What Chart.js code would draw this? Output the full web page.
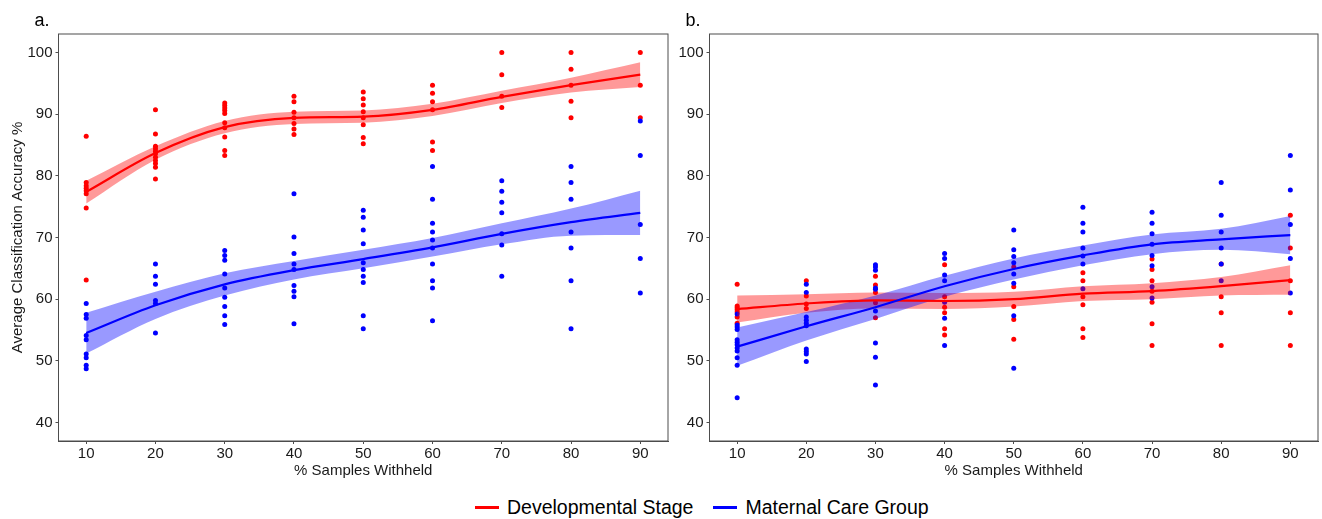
<!DOCTYPE html>
<html>
<head>
<meta charset="utf-8">
<script src="https://cdn.jsdelivr.net/npm/chart.js@4"></script>
<style>
  body { margin: 0; background: #fff; font-family: "Liberation Sans", Arial, sans-serif; }
  #wrap { position: relative; width: 1322px; height: 519px; overflow: hidden; }
  #panelA { position: absolute; left: 0; top: 0; }
  #panelB { position: absolute; left: 672px; top: 0; }
  #legend { position: absolute; left: 475px; top: 496px; display: flex; align-items: center;
            font-size: 19.5px; color: #000; white-space: nowrap; }
  .key { display: inline-block; width: 24px; height: 3px; margin-right: 8px; }
</style>
</head>
<body>
<div id="wrap">
  <canvas id="panelA" width="672" height="480"></canvas>
  <canvas id="panelB" width="650" height="480"></canvas>
  <div id="legend">
    <span class="key" style="background:#ff0000"></span><span style="margin-right:20px">Developmental Stage</span>
    <span class="key" style="background:#0000ff"></span><span>Maternal Care Group</span>
  </div>
</div>
<script>
const pctWithheld = [10, 20, 30, 40, 50, 60, 70, 80, 90];
const yTicks = [40, 50, 60, 70, 80, 90, 100];

// panel a: accuracy of each run, one list per % withheld
const aDevRuns = [
  [86.4, 78.9, 78.4, 78.0, 77.6, 77.1, 74.8, 63.1],
  [90.7, 86.8, 84.8, 84.4, 84.0, 83.6, 83.0, 82.5, 82.0, 81.4, 79.5],
  [91.8, 91.4, 91.0, 90.6, 90.1, 88.6, 87.8, 86.3, 84.1, 83.3],
  [92.9, 92.0, 90.3, 89.4, 88.5, 87.6, 86.7],
  [93.6, 92.5, 91.5, 90.4, 89.4, 88.3, 86.2, 85.2],
  [94.7, 93.4, 92.0, 90.7, 85.5, 84.1],
  [100, 96.4, 92.9, 91.1],
  [100, 97.3, 94.7, 92.1, 89.4],
  [100, 94.7, 89.4]
];
const aMatRuns = [
  [59.3, 57.5, 56.9, 54.1, 53.4, 51.1, 50.5, 49.3, 48.7],
  [65.7, 63.7, 62.4, 59.8, 59.3, 54.5],
  [67.9, 67.1, 66.3, 64.1, 61.8, 60.3, 58.8, 57.3, 55.9],
  [77.1, 70.1, 67.4, 65.7, 64.8, 62.2, 61.3, 60.4, 56.0],
  [74.4, 73.3, 71.2, 69.0, 65.9, 64.8, 63.7, 62.7, 57.3, 55.2],
  [81.5, 76.2, 72.3, 70.9, 69.6, 68.3, 65.7, 63.0, 61.8, 56.5],
  [79.2, 77.5, 75.7, 74.0, 70.6, 68.8, 63.7],
  [81.5, 78.9, 76.2, 70.9, 68.3, 63.0, 55.2],
  [88.9, 83.3, 72.1, 66.6, 61.0]
];
const aDevFit = [77.4, 83.7, 87.9, 89.4, 89.6, 90.7, 92.8, 94.7, 96.4];
const aDevLow = [75.5, 82.6, 86.9, 88.4, 88.6, 89.7, 91.8, 93.5, 94.4];
const aDevHigh = [79.2, 84.8, 88.9, 90.4, 90.6, 91.7, 93.8, 95.9, 98.4];
const aMatFit = [54.5, 59.0, 62.4, 64.7, 66.5, 68.4, 70.6, 72.5, 74.0];
const aMatLow = [51.2, 56.8, 60.6, 63.2, 65.0, 66.9, 68.9, 70.3, 70.4];
const aMatHigh = [57.8, 61.2, 64.2, 66.2, 68.0, 69.9, 72.3, 74.7, 77.6];

// panel b
const bDevRuns = [
  [62.4, 58.9, 58.6, 58.3, 57.9, 57.1, 56.1],
  [63.0, 60.5, 59.2, 58.5],
  [63.7, 62.3, 61.1, 59.4, 57.0],
  [65.6, 60.4, 58.7, 57.8, 55.2, 54.2],
  [65.2, 62.0, 58.8, 56.7, 53.5],
  [64.3, 63.0, 60.4, 59.1, 55.2, 53.8],
  [66.5, 64.8, 63.0, 61.3, 59.5, 56.0, 52.5],
  [65.7, 60.4, 57.8, 52.5],
  [73.6, 68.3, 63.0, 57.8, 52.5]
];
const bMatRuns = [
  [57.6, 55.8, 55.5, 55.1, 53.4, 53.0, 52.6, 52.1, 51.6, 50.5, 49.3, 44.0],
  [62.4, 61.1, 57.1, 56.6, 56.1, 55.7, 51.9, 51.5, 51.1, 49.9],
  [65.6, 65.2, 64.7, 61.8, 61.6, 58.1, 52.9, 50.6, 46.1],
  [67.4, 66.6, 63.9, 63.0, 59.5, 56.9, 52.5],
  [71.2, 68.0, 66.9, 65.9, 64.1, 62.6, 57.3, 48.8],
  [74.9, 72.3, 70.9, 68.3, 67.0, 65.7, 61.7],
  [74.1, 72.3, 70.6, 68.9, 67.1, 65.4, 62.0, 60.2],
  [78.9, 73.6, 70.9, 68.3, 65.7, 63.0],
  [83.3, 77.7, 72.1, 66.6, 61.0]
];
const bDevFit = [58.4, 59.3, 59.8, 59.7, 60.0, 60.9, 61.3, 62.1, 63.1];
const bDevLow = [56.2, 57.8, 58.5, 58.4, 58.8, 59.7, 60.0, 60.6, 60.7];
const bDevHigh = [60.6, 60.8, 61.1, 61.0, 61.2, 62.1, 62.6, 63.6, 65.5];
const bMatFit = [52.3, 55.6, 58.7, 62.1, 64.9, 67.1, 68.9, 69.7, 70.4];
const bMatLow = [49.2, 53.3, 56.8, 60.4, 63.2, 65.5, 67.3, 68.0, 67.3];
const bMatHigh = [55.4, 57.9, 60.6, 63.8, 66.6, 68.7, 70.5, 71.4, 73.5];

const RED = "#ff0000";
const BLUE = "#0000ff";
const AXIS = "#4d4d4d";
const FONT = '"Liberation Sans", Arial, sans-serif';

const toPoints = (runs) =>
  pctWithheld.flatMap((x, i) => runs[i].map((y) => ({ x, y })));
const toCurve = (vals) => pctWithheld.map((x, i) => ({ x, y: vals[i] }));

const panelBox = {
  id: "panelBox",
  afterDraw(chart, args, opts) {
    const { ctx, chartArea } = chart;
    ctx.save();
    ctx.strokeStyle = AXIS;
    ctx.lineWidth = 1;
    ctx.strokeRect(chartArea.left, chartArea.top, chartArea.right - chartArea.left, chartArea.bottom - chartArea.top);
    ctx.font = "18px " + FONT;
    ctx.fillStyle = "#000";
    ctx.fillText(opts.letter, chartArea.left + opts.dx, 26);
    ctx.restore();
  },
};

function curve(vals, color, width, order, fill) {
  return {
    data: toCurve(vals),
    showLine: true,
    borderColor: color,
    borderWidth: width,
    backgroundColor: color,
    pointRadius: 0,
    cubicInterpolationMode: "monotone",
    fill: fill,
    order: order,
  };
}

function dots(runs, color, order) {
  return {
    data: toPoints(runs),
    backgroundColor: color,
    borderWidth: 0,
    pointRadius: 2.5,
    order: order,
  };
}

function makePanel(canvasId, p) {
  new Chart(document.getElementById(canvasId), {
    type: "scatter",
    data: {
      datasets: [
        dots(p.devRuns, RED, 6),
        dots(p.matRuns, BLUE, 5),
        curve(p.devLow, "rgba(0,0,0,0)", 0, 4, false),
        curve(p.devHigh, "rgba(255,0,0,0.4)", 0, 4, 2),
        curve(p.matLow, "rgba(0,0,0,0)", 0, 3, false),
        curve(p.matHigh, "rgba(0,0,255,0.4)", 0, 3, 4),
        curve(p.devFit, RED, 2.2, 2, false),
        curve(p.matFit, BLUE, 2.2, 1, false),
      ],
    },
    options: {
      responsive: false,
      animation: false,
      events: [],
      layout: { padding: { top: 34, right: p.padRight, left: 0, bottom: 0 } },
      plugins: {
        legend: { display: false },
        tooltip: { enabled: false },
        panelBox: { letter: p.letter, dx: -24 },
      },
      scales: {
        x: {
          type: "linear",
          min: 6,
          max: 94,
          afterBuildTicks: (scale) => {
            scale.ticks = pctWithheld.map((v) => ({ value: v }));
          },
          afterFit: (scale) => {
            scale.height = 39;
          },
          grid: { drawOnChartArea: false, tickLength: 3, color: AXIS },
          border: { color: AXIS },
          ticks: { color: "#1a1a1a", padding: 1, font: { family: FONT, size: 15 } },
          title: {
            display: true,
            text: "% Samples Withheld",
            color: "#1a1a1a",
            font: { family: FONT, size: 15 },
            padding: { top: 0, bottom: 0 },
          },
        },
        y: {
          min: 37,
          max: 103,
          afterBuildTicks: (scale) => {
            scale.ticks = yTicks.map((v) => ({ value: v }));
          },
          afterFit: (scale) => {
            scale.width = p.yWidth;
          },
          grid: { drawOnChartArea: false, tickLength: 3, color: AXIS },
          border: { color: AXIS },
          ticks: { color: "#1a1a1a", padding: 3, font: { family: FONT, size: 15 } },
          title: {
            display: p.yTitle,
            text: "Average Classification Accuracy %",
            color: "#1a1a1a",
            font: { family: FONT, size: 15 },
            padding: { top: 9, bottom: 0 },
          },
        },
      },
    },
    plugins: [panelBox],
  });
}

makePanel("panelA", {
  devRuns: aDevRuns, matRuns: aMatRuns,
  devFit: aDevFit, devLow: aDevLow, devHigh: aDevHigh,
  matFit: aMatFit, matLow: aMatLow, matHigh: aMatHigh,
  letter: "a.", yTitle: true, yWidth: 58.5, padRight: 1.5,
});

makePanel("panelB", {
  devRuns: bDevRuns, matRuns: bMatRuns,
  devFit: bDevFit, devLow: bDevLow, devHigh: bDevHigh,
  matFit: bMatFit, matLow: bMatLow, matHigh: bMatHigh,
  letter: "b.", yTitle: false, yWidth: 37.5, padRight: 1,
});
</script>
</body>
</html>
